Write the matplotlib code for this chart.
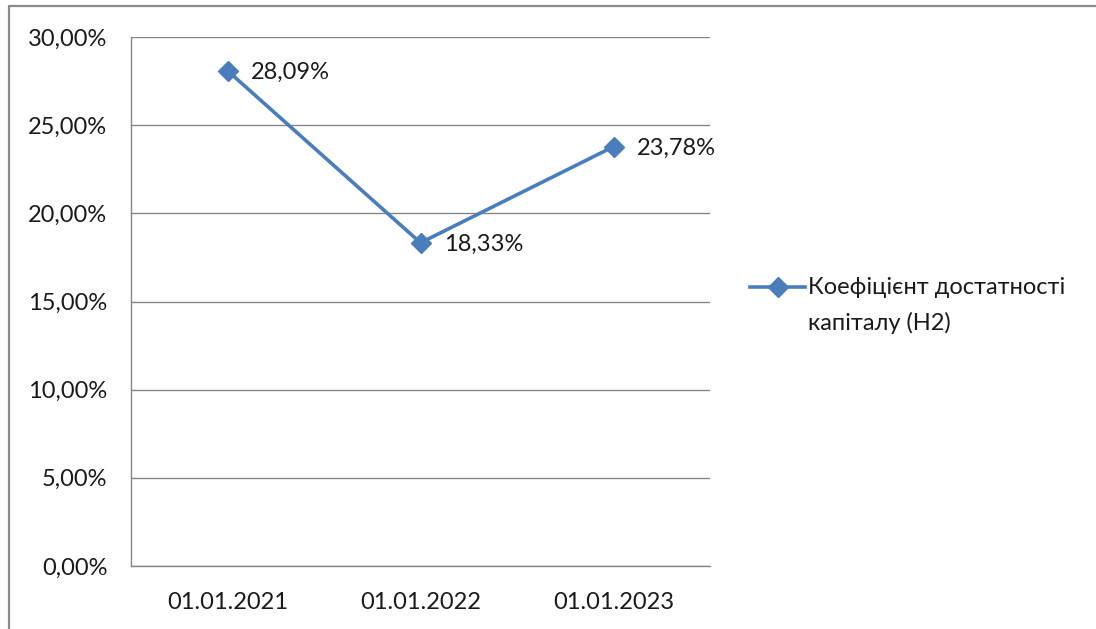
import matplotlib.pyplot as plt
from matplotlib.lines import Line2D
from matplotlib.ticker import FuncFormatter

plt.rcParams['font.family'] = ['Lato', 'DejaVu Sans']

# Дані для графіка
dates = ['01.01.2021', '01.01.2022', '01.01.2023']
h2_values = [28.09, 18.33, 23.78]
series_lines = ['Коефіцієнт достатності', 'капіталу (Н2)']

blue = '#4a7ebb'
grid_gray = '#868686'
text_color = '#1a1a1a'
fs = 17


def pct(v):
    return f'{v:.2f}%'.replace('.', ',')


W, H = 1096, 629
fig = plt.figure(figsize=(W / 100, H / 100), dpi=100)
ax = fig.add_axes([131 / W, 1 - 566 / H, 579 / W, 529 / H])

x = [i + 0.5 for i in range(len(dates))]
ax.plot(x, h2_values, color=blue, linewidth=2.6, marker='D',
        markersize=10.5, zorder=3)

# Підписи значень праворуч від точок
for xi, v in zip(x, h2_values):
    ax.annotate(pct(v), (xi, v), xytext=(17, -1), textcoords='offset points',
                ha='left', va='center', fontsize=fs, color=text_color)

ax.set_xlim(0, 3)
ax.set_ylim(0, 30)
ax.set_yticks(range(0, 31, 5))
ax.yaxis.set_major_formatter(FuncFormatter(lambda v, p: pct(v)))
ax.set_xticks(x)
ax.set_xticklabels(dates)
ax.tick_params(length=0, labelsize=fs, labelcolor=text_color)
ax.tick_params(axis='y', pad=17)
ax.tick_params(axis='x', pad=19)

ax.grid(axis='y', color=grid_gray, linewidth=1)
ax.set_axisbelow(True)
for side in ['top', 'right']:
    ax.spines[side].set_visible(False)
for side in ['left', 'bottom']:
    ax.spines[side].set_color(grid_gray)
    ax.spines[side].set_linewidth(1)

# Легенда: зразок лінії біля першого рядка підпису
ly = 1 - 287 / H
fig.add_artist(Line2D([750 / W, 805 / W], [ly, ly], transform=fig.transFigure,
                      color=blue, linewidth=2.6))
fig.add_artist(Line2D([778 / W], [ly], transform=fig.transFigure,
                      color=blue, marker='D', markersize=10.5))
for i, s in enumerate(series_lines):
    fig.text(808 / W, ly - i * 36 / H, s, ha='left', va='center',
             fontsize=fs, color=text_color)

# Рамка діаграми (видно лише лівий і верхній край)
fig.add_artist(Line2D([8.5 / W, 8.5 / W, 1], [0, 1 - 6 / H, 1 - 6 / H],
                      transform=fig.transFigure, color='#8a8a8a',
                      linewidth=1.6))

fig.savefig('out.png', dpi=100, facecolor='white')
